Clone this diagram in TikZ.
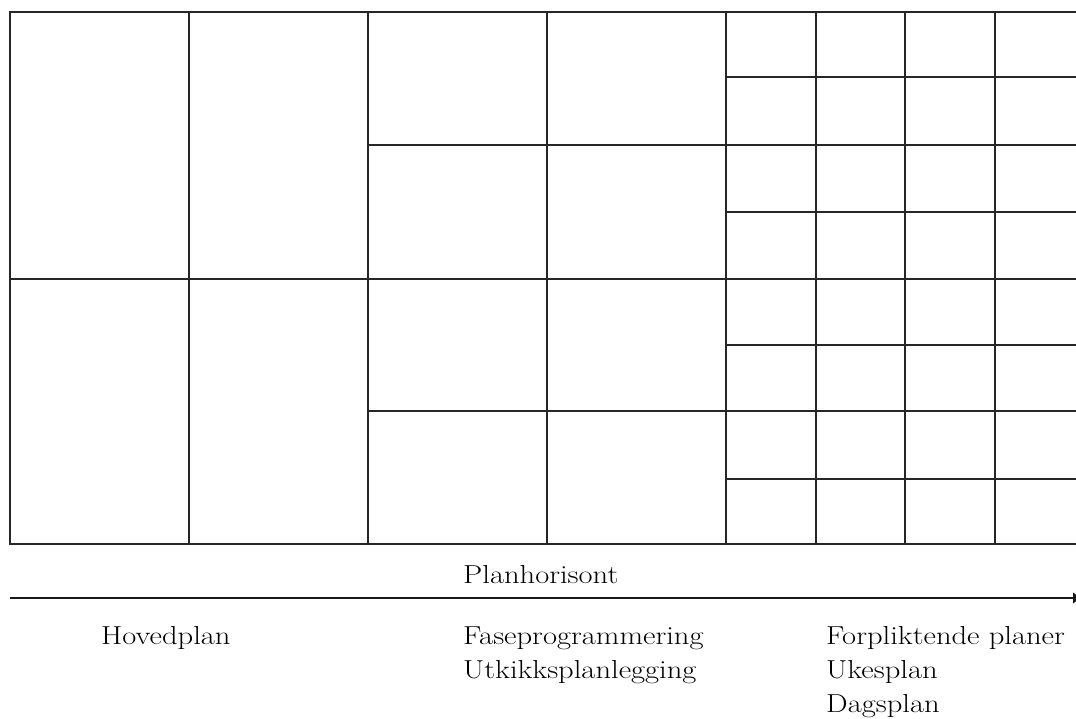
\documentclass[tikz,border=0pt]{standalone}
\usetikzlibrary{arrows.meta}
\tikzset{
  gridline/.style={line width=1.2pt, black!85},
  axis/.style={line width=2.4pt, black!90, -{Latex[length=9pt,width=12pt]}},
  label/.style={anchor=base west, inner sep=0pt, font=\fontsize{26}{32}\selectfont},
}
\newcommand{\wtxt}[1]{\scalebox{1.175}[1]{#1}}
\begin{document}
\begin{tikzpicture}[x=1pt,y=-1pt]
  \useasboundingbox (0,0) rectangle (1076,719);
  % outer frame (open at the right edge)
  \draw[gridline] (1090,12) -- (10,12) -- (10,544) -- (1090,544);
  % full-height column dividers
  \foreach \cx in {189,368,547,726,816,905,995}
    \draw[gridline] (\cx,12) -- (\cx,544);
  % main row split
  \draw[gridline] (10,279) -- (1090,279);
  % quarter rows from the third column on
  \foreach \ry in {145,411}
    \draw[gridline] (368,\ry) -- (1090,\ry);
  % eighth rows in the fine columns
  \foreach \ry in {77,212,345,479}
    \draw[gridline] (726,\ry) -- (1090,\ry);
  % time axis
  \coordinate (axstart) at (10,598);
  \coordinate (axend) at (1082,598);
  \draw[axis] (axstart) -- (axend);
  % labels
  \node[label] (horisont) at (463,583) {\wtxt{Planhorisont}};
  \node[label] (hoved) at (101,644) {\wtxt{Hovedplan}};
  \node[label] (fase) at (463,644) {\wtxt{Faseprogrammering}};
  \node[label] (utkikk) at (463,678) {\wtxt{Utkikksplanlegging}};
  \node[label] (forpl) at (826,644) {\wtxt{Forpliktende planer}};
  \node[label] (uke) at (826,678) {\wtxt{Ukesplan}};
  \node[label] (dag) at (826,712) {\wtxt{Dagsplan}};
\end{tikzpicture}
\end{document}
